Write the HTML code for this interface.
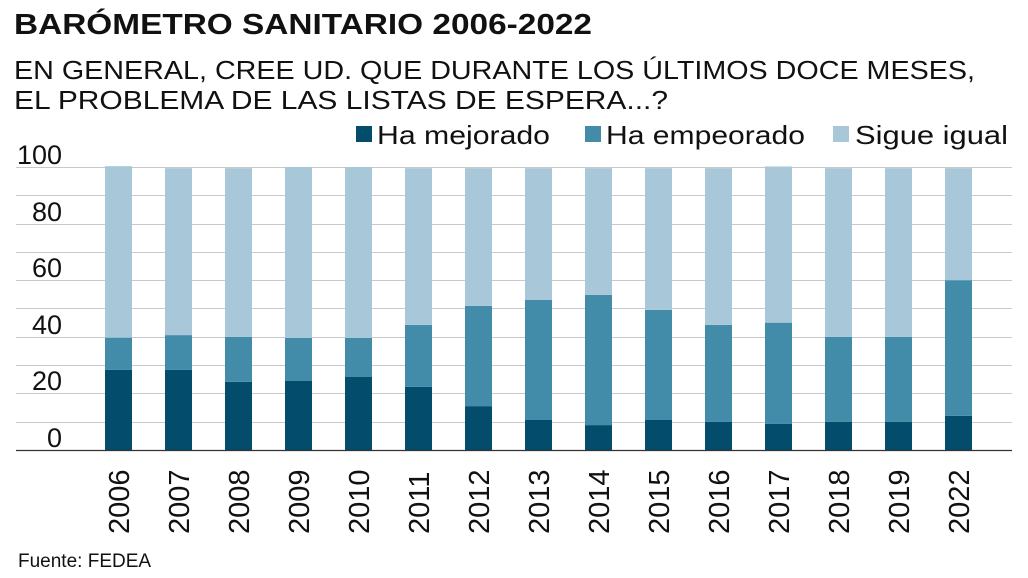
<!DOCTYPE html>
<html><head><meta charset="utf-8"><style>
html,body{margin:0;padding:0;background:#fff;}
svg{display:block;font-family:"Liberation Sans",sans-serif;}
</style></head><body>
<svg width="1028" height="578" viewBox="0 0 1028 578" xmlns="http://www.w3.org/2000/svg">
<text x="14" y="34" font-size="29" font-weight="bold" fill="#111" textLength="578" lengthAdjust="spacingAndGlyphs">BARÓMETRO SANITARIO 2006-2022</text>
<text x="14" y="79" font-size="26" fill="#111" textLength="961" lengthAdjust="spacingAndGlyphs">EN GENERAL, CREE UD. QUE DURANTE LOS ÚLTIMOS DOCE MESES,</text>
<text x="14" y="109" font-size="26" fill="#111" textLength="654" lengthAdjust="spacingAndGlyphs">EL PROBLEMA DE LAS LISTAS DE ESPERA...?</text>
<g font-size="26" fill="#111">
<rect x="356" y="126" width="16" height="16" fill="#034c6b"/><text x="377" y="144" textLength="173" lengthAdjust="spacingAndGlyphs">Ha mejorado</text>
<rect x="585" y="126" width="16" height="16" fill="#428ba9"/><text x="606" y="144" textLength="199" lengthAdjust="spacingAndGlyphs">Ha empeorado</text>
<rect x="833" y="126" width="16" height="16" fill="#a8c8d9"/><text x="855" y="144" textLength="153" lengthAdjust="spacingAndGlyphs">Sigue igual</text>
</g>
<g stroke="#c8c8c8" stroke-width="1">
<line x1="16" x2="1012" y1="167.5" y2="167.5"/><line x1="16" x2="1012" y1="195.5" y2="195.5"/>
<line x1="16" x2="1012" y1="224.5" y2="224.5"/><line x1="16" x2="1012" y1="252.5" y2="252.5"/>
<line x1="16" x2="1012" y1="280.5" y2="280.5"/><line x1="16" x2="1012" y1="308.5" y2="308.5"/>
<line x1="16" x2="1012" y1="337.5" y2="337.5"/><line x1="16" x2="1012" y1="365.5" y2="365.5"/>
<line x1="16" x2="1012" y1="393.5" y2="393.5"/><line x1="16" x2="1012" y1="422.5" y2="422.5"/>
</g>
<g font-size="27" fill="#111" text-anchor="end">
<text x="62" y="164">100</text><text x="62" y="221">80</text><text x="62" y="277">60</text>
<text x="62" y="334">40</text><text x="62" y="390">20</text><text x="62" y="447">0</text>
</g>
<g id="bars"></g>
<line x1="16" x2="1012" y1="450.5" y2="450.5" stroke="#333" stroke-width="1.2"/>
<g id="labels" font-size="29" fill="#111"></g>
<text x="18" y="567" font-size="19" fill="#111">Fuente: FEDEA</text>
<script>
var d=[[2006,28.3,39.7,100.3],[2007,28.3,40.6,99.6],[2008,24.1,40,99.6],[2009,24.5,39.6,100],[2010,25.8,39.6,100],[2011,22.3,44.2,99.6],[2012,15.5,50.9,99.6],[2013,10.6,53,99.6],[2014,8.8,54.8,99.6],[2015,10.6,49.5,99.6],[2016,10,44.2,99.6],[2017,9.2,45,100.2],[2018,10,40,99.6],[2019,10,40,99.6],[2022,12.1,60,99.6]];
var ns="http://www.w3.org/2000/svg",b=document.getElementById("bars"),l=document.getElementById("labels");
function y(v){return 450-v*2.83;}
function r(x,y1,y2,c){var e=document.createElementNS(ns,"rect");e.setAttribute("x",x);e.setAttribute("width",27);e.setAttribute("y",y(y2));e.setAttribute("height",y(y1)-y(y2));e.setAttribute("fill",c);b.appendChild(e);}
d.forEach(function(a,i){var x=105+i*60;r(x,0,a[1],"#034c6b");r(x,a[1],a[2],"#428ba9");r(x,a[2],a[3],"#a8c8d9");
var t=document.createElementNS(ns,"text");var cx=x+13.5+10.5;t.setAttribute("transform","translate("+cx+",534) rotate(-90)");t.textContent=a[0];l.appendChild(t);});
</script>
</svg>
</body></html>
